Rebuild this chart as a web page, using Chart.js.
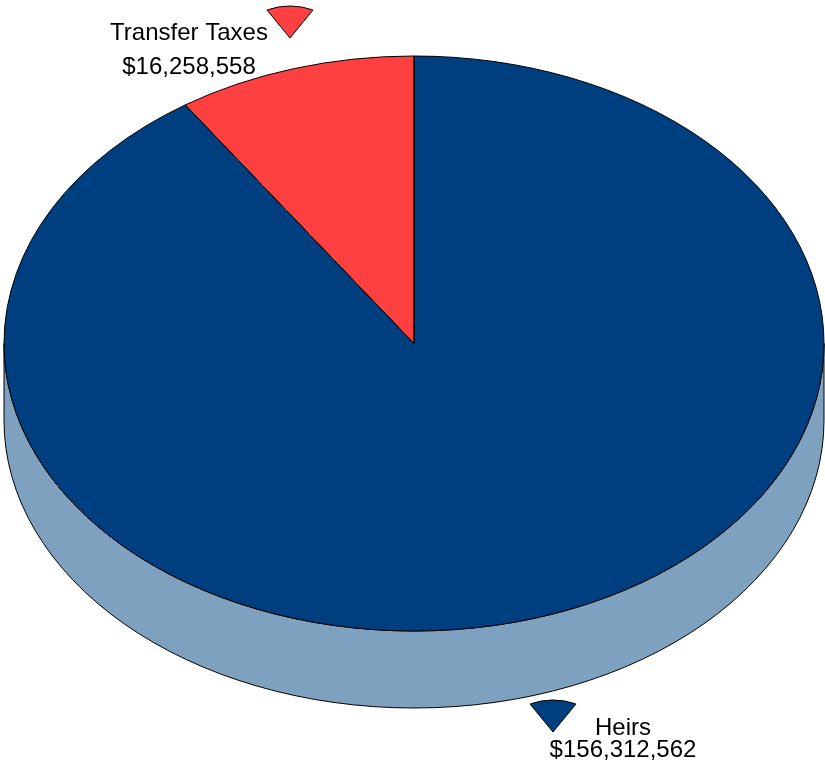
<!DOCTYPE html>
<html>
<head>
<meta charset="utf-8">
<script src="https://cdn.jsdelivr.net/npm/chart.js@4"></script>
<style>
  html, body { margin: 0; padding: 0; background: #fff; overflow: hidden; }
  canvas { display: block; }
</style>
</head>
<body>
<canvas id="estate" width="825" height="765"></canvas>
<script>
// Estate split between heirs and transfer taxes
const shares = ['Heirs', 'Transfer Taxes'];
const amounts = [156312562, 16258558];
const topColors = ['#003f7f', '#ff4040'];
const sideColors = ['#7fa1c0', '#ff9f9f'];

const DEPTH = 77;   // thickness of the pie wall in px

// where each slice's caption and marker sit
const labelSpots = [
    { x: 623, y: 735, gap: 22, wedgeX: 553, wedgeY: 732 },
    { x: 189, y: 40,  gap: 34, wedgeX: 290, wedgeY: 38 }
];

function geometry(chart) {
    const a = chart.chartArea;
    const rx = (a.right - a.left) / 2;
    const ry = (a.bottom - a.top - DEPTH) / 2;
    return { cx: a.left + rx, cy: a.top + ry, rx: rx, ry: ry };
}

function money(v) {
    return '$' + v.toLocaleString('en-US');
}

// Plugin turning the flat pie into a tilted disc with a wall
const tiltPlugin = {
    id: 'tilt',
    beforeDatasetsDraw(chart) {
        const {ctx} = chart;
        const g = geometry(chart);
        const arcs = chart.getDatasetMeta(0).data;

        // front wall, only angles 0..PI face the viewer
        ctx.save();
        ctx.lineWidth = 1;
        ctx.strokeStyle = '#000';
        arcs.forEach((arc, i) => {
            for (let k = -1; k <= 1; k++) {
                const s = Math.max(arc.startAngle + k * 2 * Math.PI, 0);
                const e = Math.min(arc.endAngle + k * 2 * Math.PI, Math.PI);
                if (e <= s) continue;
                ctx.beginPath();
                ctx.ellipse(g.cx, g.cy, g.rx, g.ry, 0, s, e);
                ctx.ellipse(g.cx, g.cy + DEPTH, g.rx, g.ry, 0, e, s, true);
                ctx.closePath();
                ctx.fillStyle = sideColors[i];
                ctx.fill();
                ctx.stroke();
            }
        });
        ctx.restore();

        // squash the round pie into the top face
        const first = arcs[0];
        ctx.save();
        ctx.translate(g.cx, g.cy);
        ctx.scale(g.rx / first.outerRadius, g.ry / first.outerRadius);
        ctx.translate(-first.x, -first.y);
    },
    afterDatasetsDraw(chart) {
        const {ctx} = chart;
        ctx.restore();
        const g = geometry(chart);
        const arcs = chart.getDatasetMeta(0).data;

        ctx.save();
        ctx.lineWidth = 1;
        ctx.strokeStyle = '#000';
        arcs.forEach(arc => {
            ctx.beginPath();
            ctx.moveTo(g.cx, g.cy);
            ctx.ellipse(g.cx, g.cy, g.rx, g.ry, 0, arc.startAngle, arc.endAngle);
            ctx.closePath();
            ctx.stroke();
        });
        ctx.restore();
    },
    afterDraw(chart) {
        const {ctx} = chart;
        const labels = chart.data.labels;
        const values = chart.data.datasets[0].data;
        ctx.save();
        ctx.font = '24px "Liberation Sans", Arial, sans-serif';
        ctx.textAlign = 'center';
        ctx.textBaseline = 'alphabetic';
        labels.forEach((label, i) => {
            const spot = labelSpots[i];
            ctx.fillStyle = '#000';
            ctx.fillText(label, spot.x, spot.y);
            ctx.fillText(money(values[i]), spot.x, spot.y + spot.gap);

            // small slice marker pointing down
            const half = 0.51;
            ctx.beginPath();
            ctx.moveTo(spot.wedgeX, spot.wedgeY);
            ctx.ellipse(spot.wedgeX, spot.wedgeY, 47, 32, 0,
                -Math.PI / 2 - half, -Math.PI / 2 + half);
            ctx.closePath();
            ctx.fillStyle = topColors[i];
            ctx.fill();
            ctx.lineWidth = 1;
            ctx.strokeStyle = '#000';
            ctx.stroke();
        });
        ctx.restore();
    }
};

new Chart(document.getElementById('estate').getContext('2d'), {
    type: 'pie',
    data: {
        labels: shares,
        datasets: [{
            data: amounts,
            backgroundColor: topColors,
            borderWidth: 0,
            clip: false
        }]
    },
    options: {
        responsive: false,
        animation: false,
        events: [],
        rotation: 0,
        layout: {
            padding: { left: 4, right: 1, top: 56, bottom: 57 }
        },
        plugins: {
            legend: { display: false },
            tooltip: { enabled: false }
        }
    },
    plugins: [tiltPlugin]
});
</script>
</body>
</html>
